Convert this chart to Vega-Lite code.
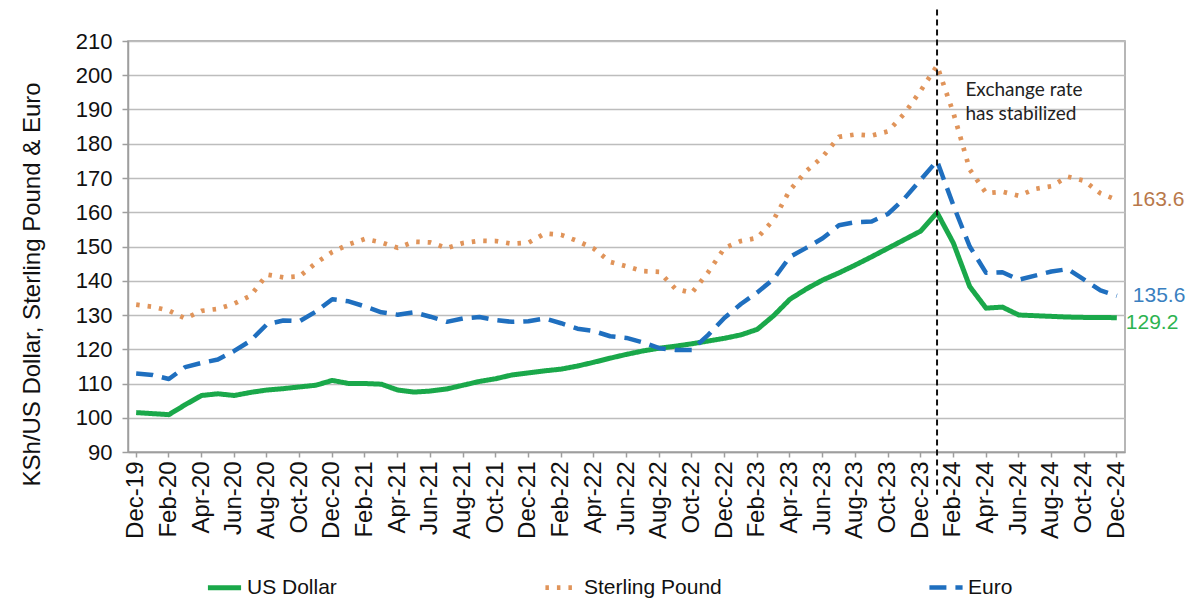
{
  "$schema": "https://vega.github.io/schema/vega-lite/v6.json",
  "width": 997,
  "height": 411,
  "autosize": {"type": "none"},
  "padding": {"left": 128, "top": 41, "right": 70, "bottom": 155},
  "background": "white",
  "config": {
    "font": "Liberation Sans",
    "view": {"stroke": "#9e9e9e", "strokeWidth": 1.5},
    "axis": {"labelOverlap": false, "labelFlush": false, "labelBound": false},
    "axisY": {"tickCount": 13}
  },
  "datasets": {
    "rates": [
      {"m":"Dec-19","US Dollar":101.5,"Sterling Pound":133.0,"Euro":112.9},
      {"m":"Jan-20","US Dollar":101.2,"Sterling Pound":132.4,"Euro":112.5},
      {"m":"Feb-20","US Dollar":100.9,"Sterling Pound":131.3,"Euro":111.3},
      {"m":"Mar-20","US Dollar":103.8,"Sterling Pound":129.0,"Euro":114.8},
      {"m":"Apr-20","US Dollar":106.5,"Sterling Pound":131.2,"Euro":116.0},
      {"m":"May-20","US Dollar":107.0,"Sterling Pound":131.8,"Euro":117.0},
      {"m":"Jun-20","US Dollar":106.5,"Sterling Pound":133.3,"Euro":119.5},
      {"m":"Jul-20","US Dollar":107.4,"Sterling Pound":135.6,"Euro":122.5},
      {"m":"Aug-20","US Dollar":108.1,"Sterling Pound":141.8,"Euro":127.3},
      {"m":"Sep-20","US Dollar":108.5,"Sterling Pound":141.0,"Euro":128.4},
      {"m":"Oct-20","US Dollar":109.0,"Sterling Pound":141.3,"Euro":128.2},
      {"m":"Nov-20","US Dollar":109.5,"Sterling Pound":145.2,"Euro":131.0},
      {"m":"Dec-20","US Dollar":110.9,"Sterling Pound":148.4,"Euro":134.6},
      {"m":"Jan-21","US Dollar":110.0,"Sterling Pound":150.6,"Euro":134.0},
      {"m":"Feb-21","US Dollar":110.0,"Sterling Pound":152.2,"Euro":132.5},
      {"m":"Mar-21","US Dollar":109.8,"Sterling Pound":151.2,"Euro":130.8},
      {"m":"Apr-21","US Dollar":108.1,"Sterling Pound":149.6,"Euro":130.1},
      {"m":"May-21","US Dollar":107.5,"Sterling Pound":151.4,"Euro":130.8},
      {"m":"Jun-21","US Dollar":107.8,"Sterling Pound":151.2,"Euro":129.5},
      {"m":"Jul-21","US Dollar":108.4,"Sterling Pound":149.5,"Euro":128.0},
      {"m":"Aug-21","US Dollar":109.5,"Sterling Pound":151.0,"Euro":129.0},
      {"m":"Sep-21","US Dollar":110.6,"Sterling Pound":151.7,"Euro":129.4},
      {"m":"Oct-21","US Dollar":111.4,"Sterling Pound":151.6,"Euro":128.5},
      {"m":"Nov-21","US Dollar":112.5,"Sterling Pound":150.8,"Euro":128.0},
      {"m":"Dec-21","US Dollar":113.1,"Sterling Pound":151.1,"Euro":128.2},
      {"m":"Jan-22","US Dollar":113.7,"Sterling Pound":153.8,"Euro":129.0},
      {"m":"Feb-22","US Dollar":114.2,"Sterling Pound":153.4,"Euro":127.6},
      {"m":"Mar-22","US Dollar":115.1,"Sterling Pound":151.6,"Euro":126.0},
      {"m":"Apr-22","US Dollar":116.2,"Sterling Pound":149.4,"Euro":125.3},
      {"m":"May-22","US Dollar":117.4,"Sterling Pound":145.5,"Euro":123.8},
      {"m":"Jun-22","US Dollar":118.5,"Sterling Pound":144.2,"Euro":123.3},
      {"m":"Jul-22","US Dollar":119.5,"Sterling Pound":142.8,"Euro":122.0},
      {"m":"Aug-22","US Dollar":120.3,"Sterling Pound":142.6,"Euro":120.3},
      {"m":"Sep-22","US Dollar":120.9,"Sterling Pound":137.6,"Euro":119.8},
      {"m":"Oct-22","US Dollar":121.6,"Sterling Pound":136.5,"Euro":119.8},
      {"m":"Nov-22","US Dollar":122.4,"Sterling Pound":142.5,"Euro":124.2},
      {"m":"Dec-22","US Dollar":123.2,"Sterling Pound":149.6,"Euro":129.2},
      {"m":"Jan-23","US Dollar":124.2,"Sterling Pound":151.6,"Euro":133.2},
      {"m":"Feb-23","US Dollar":125.8,"Sterling Pound":152.5,"Euro":136.6},
      {"m":"Mar-23","US Dollar":129.8,"Sterling Pound":157.8,"Euro":140.5},
      {"m":"Apr-23","US Dollar":134.6,"Sterling Pound":166.5,"Euro":147.0},
      {"m":"May-23","US Dollar":137.6,"Sterling Pound":172.0,"Euro":149.6},
      {"m":"Jun-23","US Dollar":140.2,"Sterling Pound":176.2,"Euro":152.4},
      {"m":"Jul-23","US Dollar":142.3,"Sterling Pound":182.0,"Euro":156.2},
      {"m":"Aug-23","US Dollar":144.6,"Sterling Pound":182.7,"Euro":157.1},
      {"m":"Sep-23","US Dollar":147.0,"Sterling Pound":182.4,"Euro":157.3},
      {"m":"Oct-23","US Dollar":149.5,"Sterling Pound":183.6,"Euro":159.5},
      {"m":"Nov-23","US Dollar":152.0,"Sterling Pound":188.8,"Euro":164.0},
      {"m":"Dec-23","US Dollar":154.5,"Sterling Pound":195.5,"Euro":169.5},
      {"m":"Jan-24","US Dollar":159.9,"Sterling Pound":202.8,"Euro":175.0},
      {"m":"Feb-24","US Dollar":151.0,"Sterling Pound":189.0,"Euro":162.0},
      {"m":"Mar-24","US Dollar":138.3,"Sterling Pound":172.5,"Euro":150.0},
      {"m":"Apr-24","US Dollar":132.0,"Sterling Pound":165.6,"Euro":142.3},
      {"m":"May-24","US Dollar":132.3,"Sterling Pound":166.0,"Euro":142.5},
      {"m":"Jun-24","US Dollar":130.0,"Sterling Pound":164.8,"Euro":140.3},
      {"m":"Jul-24","US Dollar":129.8,"Sterling Pound":166.8,"Euro":141.5},
      {"m":"Aug-24","US Dollar":129.6,"Sterling Pound":167.6,"Euro":142.7},
      {"m":"Sep-24","US Dollar":129.4,"Sterling Pound":170.4,"Euro":143.4},
      {"m":"Oct-24","US Dollar":129.3,"Sterling Pound":169.2,"Euro":140.3},
      {"m":"Nov-24","US Dollar":129.3,"Sterling Pound":165.5,"Euro":137.2},
      {"m":"Dec-24","US Dollar":129.2,"Sterling Pound":163.6,"Euro":135.6}
    ],
    "ends": [
      {"m":"Dec-24","s":"Sterling Pound","v":163.6},
      {"m":"Dec-24","s":"Euro","v":135.6},
      {"m":"Dec-24","s":"US Dollar","v":129.2}
    ],
    "marker": [{"m":"Jan-24","top":219.2,"bottom":77.5}],
    "note": [{"m":"Feb-24","v":194.0,"t":["Exchange rate","has stabilized"]}]
  },
  "encoding": {
    "x": {
      "field": "m",
      "type": "ordinal",
      "bandPosition": 0.5,
      "scale": {
        "type": "band",
        "paddingInner": 0,
        "paddingOuter": 0,
        "domain": ["Dec-19","Jan-20","Feb-20","Mar-20","Apr-20","May-20","Jun-20","Jul-20","Aug-20","Sep-20","Oct-20","Nov-20","Dec-20","Jan-21","Feb-21","Mar-21","Apr-21","May-21","Jun-21","Jul-21","Aug-21","Sep-21","Oct-21","Nov-21","Dec-21","Jan-22","Feb-22","Mar-22","Apr-22","May-22","Jun-22","Jul-22","Aug-22","Sep-22","Oct-22","Nov-22","Dec-22","Jan-23","Feb-23","Mar-23","Apr-23","May-23","Jun-23","Jul-23","Aug-23","Sep-23","Oct-23","Nov-23","Dec-23","Jan-24","Feb-24","Mar-24","Apr-24","May-24","Jun-24","Jul-24","Aug-24","Sep-24","Oct-24","Nov-24","Dec-24"]
      },
      "axis": {
        "title": null,
        "labelExpr": "test(/^(Dec|Feb|Apr|Jun|Aug|Oct)/, datum.value) ? datum.label : ''",
        "labelAngle": 270,
        "labelFontSize": 24,
        "labelColor": "#111",
        "labelPadding": 4,
        "tickSize": 5,
        "tickColor": "#9e9e9e",
        "tickWidth": 1.5,
        "tickOpacity": {"condition": {"test": "test(/^(Dec|Feb|Apr|Jun|Aug|Oct)/, datum.value)", "value": 1}, "value": 0},
        "domainColor": "#9e9e9e",
        "domainWidth": 1.5,
        "grid": false
      }
    },
    "y": {
      "field": "v",
      "type": "quantitative",
      "scale": {"domain": [90, 210], "nice": false, "zero": false},
      "axis": {
        "values": [90,100,110,120,130,140,150,160,170,180,190,200,210],
        "title": "KSh/US Dollar, Sterling Pound  &  Euro",
        "titleFontSize": 24,
        "titleFontWeight": "normal",
        "titleColor": "#111",
        "titleX": -84,
        "titleY": 243,
        "labelFontSize": 22,
        "labelColor": "#111",
        "labelPadding": 10,
        "tickSize": 6,
        "tickColor": "#9e9e9e",
        "tickWidth": 1.5,
        "domainColor": "#9e9e9e",
        "domainWidth": 1.5,
        "gridColor": "#bdbdbd",
        "gridWidth": 1.5
      }
    }
  },
  "layer": [
    {
      "data": {"name": "rates"},
      "transform": [{"fold": ["US Dollar", "Sterling Pound", "Euro"], "as": ["s", "v"]}],
      "mark": {"type": "line", "strokeCap": "butt", "strokeJoin": "round"},
      "encoding": {
        "color": {
          "field": "s",
          "type": "nominal",
          "scale": {"domain": ["US Dollar", "Sterling Pound", "Euro"], "range": ["#1aa84a", "#e0945a", "#1f6fbf"]},
          "legend": {
            "orient": "none",
            "legendX": 77,
            "legendY": 527,
            "direction": "horizontal",
            "title": null,
            "columnPadding": 198,
            "labelFontSize": 21,
            "labelColor": "#111",
            "symbolSize": 1100,
            "symbolStrokeWidth": 5,
            "symbolType": "stroke",
            "labelOffset": 3
          }
        },
        "strokeDash": {
          "field": "s",
          "type": "nominal",
          "scale": {"domain": ["US Dollar", "Sterling Pound", "Euro"], "range": [[1, 0], [3.5, 8], [17, 9]]}
        },
        "strokeWidth": {
          "field": "s",
          "type": "nominal",
          "scale": {"domain": ["US Dollar", "Sterling Pound", "Euro"], "range": [5, 4.5, 5.5]},
          "legend": null
        }
      }
    },
    {
      "data": {"name": "marker"},
      "mark": {"type": "rule", "color": "#111", "strokeWidth": 2, "strokeDash": [6, 4]},
      "encoding": {
        "y": {"field": "top", "type": "quantitative"},
        "y2": {"field": "bottom"}
      }
    },
    {
      "data": {"name": "note"},
      "mark": {"type": "text", "align": "left", "baseline": "alphabetic", "dx": 12, "font": "Lato", "fontSize": 19, "lineHeight": 24, "color": "#222"},
      "encoding": {
        "text": {"field": "t"}
      }
    },
    {
      "data": {"name": "ends"},
      "transform": [{"filter": "datum.s === 'Sterling Pound'"}],
      "mark": {"type": "text", "align": "left", "baseline": "middle", "dx": 15, "fontSize": 21, "color": "#b8784a"},
      "encoding": {
        "text": {"field": "v", "type": "quantitative", "format": ".1f"}
      }
    },
    {
      "data": {"name": "ends"},
      "transform": [{"filter": "datum.s === 'Euro'"}],
      "mark": {"type": "text", "align": "left", "baseline": "middle", "dx": 16, "fontSize": 21, "color": "#3a7fc0"},
      "encoding": {
        "text": {"field": "v", "type": "quantitative", "format": ".1f"}
      }
    },
    {
      "data": {"name": "ends"},
      "transform": [{"filter": "datum.s === 'US Dollar'"}],
      "mark": {"type": "text", "align": "left", "baseline": "middle", "dx": 9, "dy": 5, "fontSize": 21, "color": "#2db350"},
      "encoding": {
        "text": {"field": "v", "type": "quantitative", "format": ".1f"}
      }
    }
  ]
}
